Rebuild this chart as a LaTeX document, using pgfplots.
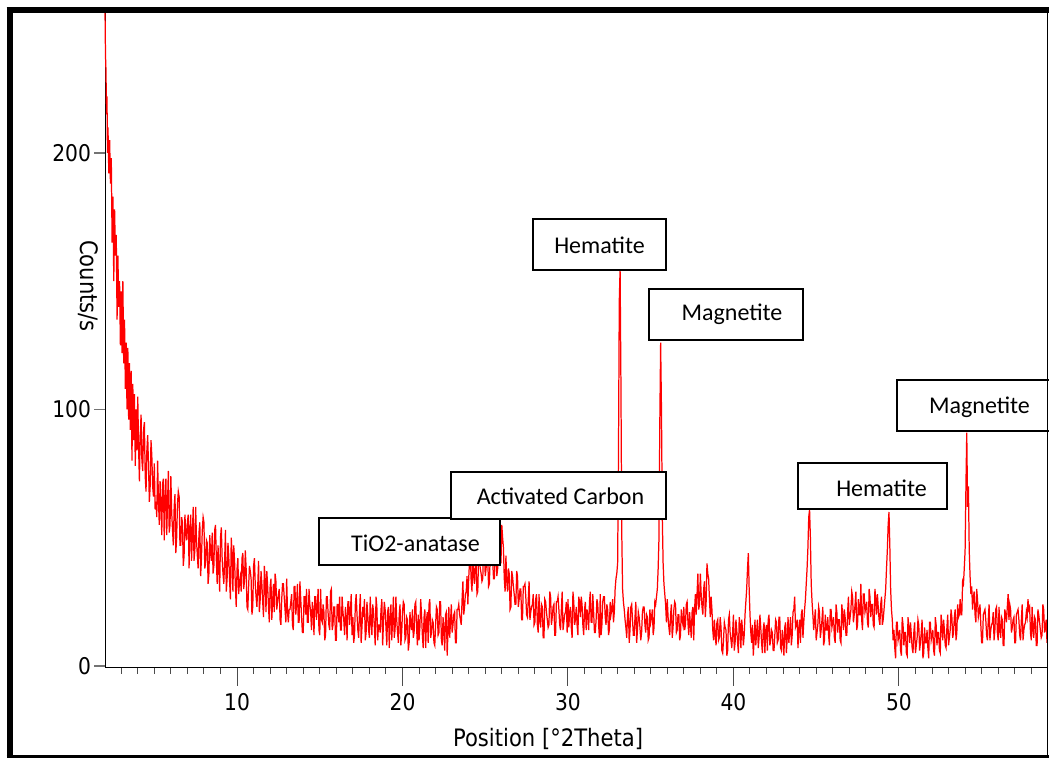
\documentclass[border=0pt]{standalone}
\usepackage{fontspec}
\setmainfont{DejaVu Sans}[FakeStretch=0.88]
\newfontfamily\boxfont{Carlito}
\usepackage{pgfplots}
\pgfplotsset{compat=1.18}
\begin{document}
\begin{tikzpicture}
\useasboundingbox (0,0) rectangle (524.5pt,379pt);
\begin{axis}[
  at={(52.5pt,45pt)}, anchor=south west,
  scale only axis, width=471pt, height=330pt,
  xmin=2.02, xmax=58.95, ymin=-0.8, ymax=256.5,
  clip=false,
  axis x line=bottom, axis y line=left,
  axis line style={-, black, line width=0.5pt},
  xtick={10,20,30,40,50}, minor xtick={3,4,...,58},
  ytick={0,100,200},
  tick align=outside,
  major tick length=9pt, minor tick length=3pt,
  ytick style={draw=none},
  xtick style={black!70, line width=0.5pt},
  minor x tick style={black!70, line width=0.5pt},
  /pgf/number format/assume math mode=true,
  ticklabel style={font=\fontsize{11.5}{13}\selectfont, text=black},
  yticklabel style={xshift=5.5pt},
  label style={font=\fontsize{12}{14}\selectfont},
  xlabel={Position [°2Theta]},
  ylabel={Counts/s},
  xlabel style={at={(axis description cs:0.4703,-0.1192)}, anchor=base},
  ylabel style={rotate=180, at={(axis description cs:-0.018,0.5788)}, anchor=center},
]
\addplot[red, line width=0.62pt] table {
x y
2.02 256
2.05 238
2.08 232
2.11 215
2.14 222
2.17 200
2.20 210
2.25 192
2.30 205
2.35 188
2.40 198
2.45 165
2.50 183
2.55 150
2.60 178
2.65 160
2.70 168
2.75 135
2.80 160
2.85 140
2.90 150
2.95 125
3.00 146
3.05 122
3.10 150
3.15 118
3.20 135
3.25 108
3.30 126
3.35 100
3.40 124
3.45 96
3.50 118
3.55 92
3.60 115
3.65 80
3.70 110
3.75 88
3.80 106
3.85 78
3.90 100
3.95 84
4.00 105
4.05 85
4.1 72
4.15 90
4.2 98
4.25 80
4.3 76
4.35 92
4.4 95
4.45 74
4.5 68
4.55 84
4.6 90
4.65 78
4.7 64
4.75 70
4.8 88
4.85 82
4.9 70
4.95 66
5.0 79
5.05 61
5.1 64
5.15 58
5.2 80
5.25 65
5.3 55
5.35 72
5.4 63
5.45 51
5.5 71
5.55 73
5.6 49
5.65 66
5.7 73
5.75 51
5.8 64
5.85 76
5.9 52
5.95 55
6.0 74
6.05 60
6.1 53
6.15 47
6.2 62
6.25 67
6.3 44
6.35 50
6.4 63
6.45 68
6.5 66
6.55 47
6.6 47
6.65 58
6.7 56
6.75 39
6.8 43
6.85 59
6.9 52
6.95 49
7.0 56
7.05 59
7.1 38
7.15 53
7.2 59
7.25 41
7.3 51
7.35 62
7.4 41
7.45 45
7.5 62
7.55 49
7.6 43
7.65 38
7.7 52
7.75 56
7.8 35
7.85 42
7.9 53
7.95 58
8.0 56
8.05 38
8.1 40
8.15 49
8.2 48
8.25 32
8.3 36
8.35 51
8.4 44
8.45 41
8.5 52
8.55 36
8.6 39
8.65 53
8.7 55
8.75 41
8.8 32
8.85 47
8.9 39
8.95 29
9.0 50
9.05 54
9.1 42
9.15 36
9.2 32
9.25 41
9.3 53
9.35 29
9.4 34
9.45 48
9.5 43
9.55 33
9.6 26
9.65 50
9.7 44
9.75 29
9.8 47
9.85 41
9.9 31
9.95 23
10.0 38
10.05 42
10.1 28
10.15 33
10.2 35
10.25 29
10.3 42
10.35 44
10.4 30
10.45 33
10.5 45
10.55 38
10.6 23
10.65 22
10.7 31
10.75 39
10.8 37
10.85 34
10.9 20
10.95 23
11.0 39
11.05 42
11.1 32
11.15 27
11.2 23
11.25 31
11.3 41
11.35 21
11.4 26
11.45 37
11.5 32
11.55 25
11.6 19
11.65 39
11.7 34
11.75 21
11.8 37
11.85 31
11.9 23
11.95 17
12.0 31
12.05 34
12.1 18
12.15 25
12.2 32
12.25 21
12.3 36
12.35 33
12.4 22
12.45 25
12.5 28
12.55 30
12.6 18
12.65 16
12.7 26
12.75 32
12.8 32
12.85 27
12.9 22
12.95 17
13.0 34
13.05 21
13.1 17
13.15 22
13.2 22
13.25 25
13.3 28
13.35 16
13.4 14
13.45 31
13.5 31
13.55 20
13.6 24
13.65 32
13.7 17
13.75 17
13.8 33
13.85 26
13.9 19
13.95 13
14.0 13
14.05 27
14.1 27
14.15 20
14.2 30
14.25 17
14.3 17
14.35 30
14.4 24
14.45 21
14.5 14
14.55 25
14.6 21
14.65 12
14.7 27
14.75 27
14.8 18
14.85 23
14.9 30
14.95 14
15.0 12
15.05 30
15.1 18
15.15 17
15.2 24
15.25 21
15.3 10
15.35 12
15.4 27
15.45 27
15.5 21
15.55 16
15.6 14
15.65 29
15.7 30
15.75 14
15.8 16
15.85 23
15.9 23
15.95 10
16.0 10
16.05 24
16.1 24
16.15 17
16.2 27
16.25 14
16.3 14
16.35 27
16.4 21
16.45 18
16.5 12
16.55 23
16.6 19
16.65 10
16.7 25
16.75 25
16.8 16
16.85 21
16.9 28
16.95 12
17.0 19
17.05 9
17.1 12
17.15 24
17.2 28
17.25 20
17.3 14
17.35 11
17.4 21
17.45 28
17.5 9
17.55 15
17.6 23
17.65 19
17.7 26
17.75 10
17.8 13
17.85 25
17.9 20
17.95 14
18.0 11
18.05 27
18.1 18
18.15 12
18.2 24
18.25 21
18.3 15
18.35 8
18.4 27
18.45 23
18.5 10
18.55 16
18.6 16
18.65 13
18.7 22
18.75 26
18.8 8
18.85 17
18.9 25
18.95 22
19.0 15
19.05 8
19.1 21
19.15 23
19.2 7
19.25 19
19.3 24
19.35 10
19.4 18
19.45 27
19.5 11
19.55 14
19.6 27
19.65 18
19.7 13
19.75 9
19.8 20
19.85 24
19.9 8
19.95 13
20.0 21
20.05 25
20.1 24
20.15 10
20.2 11
20.25 19
20.3 18
20.35 6
20.4 9
20.45 21
20.5 16
20.55 14
20.6 22
20.65 11
20.7 13
20.75 24
20.8 25
20.85 15
20.9 8
20.95 20
21.0 10
21.05 15
21.1 26
21.15 20
21.2 12
21.25 7
21.3 19
21.35 22
21.4 7
21.45 18
21.5 21
21.55 9
21.6 24
21.65 26
21.7 11
21.75 13
21.8 18
21.85 17
21.9 9
21.95 8
22.0 16
22.05 23
22.1 22
22.15 12
22.2 13
22.25 25
22.3 25
22.35 10
22.4 8
22.45 19
22.5 14
22.55 6
22.6 20
22.65 21
22.7 4
22.75 14
22.8 23
22.85 11
22.9 17
22.95 24
23.0 13
23.05 16
23.1 20
23.15 21
23.2 9
23.25 9
23.3 22
23.35 22
23.4 24
23.45 20
23.5 18
23.55 16
23.6 26
23.65 33
23.7 20
23.75 23
23.8 28
23.85 29
23.9 35
23.95 24
24.0 34
24.05 41
24.1 43
24.15 33
24.2 29
24.25 44
24.3 35
24.35 32
24.4 40
24.45 39
24.5 28
24.55 29
24.6 44
24.65 41
24.7 38
24.75 36
24.8 33
24.85 34
24.9 46
24.95 45
25.0 35
25.05 38
25.1 41
25.15 42
25.2 31
25.25 32
25.3 43
25.35 44
25.4 45
25.45 41
25.5 34
25.55 34
25.6 42
25.65 49
25.7 35
25.75 38
25.8 44
25.85 43
25.9 50
25.95 40
26.0 55
26.05 50
26.1 46
26.15 34
26.2 29
26.25 43
26.3 33
26.35 29
26.4 38
26.45 36
26.5 22
26.55 23
26.6 37
26.65 35
26.7 31
26.75 28
26.8 24
26.85 24
26.9 37
26.95 35
27.0 23
27.05 26
27.1 30
27.15 30
27.2 18
27.25 18
27.3 31
27.35 31
27.4 32
27.45 27
27.5 20
27.55 19
27.6 26
27.65 33
27.7 18
27.75 21
27.8 23
27.85 24
27.9 28
27.95 16
28.0 17
28.05 26
28.1 28
28.15 16
28.2 13
28.25 28
28.3 18
28.35 15
28.4 24
28.45 23
28.5 11
28.55 11
28.6 26
28.65 25
28.7 21
28.75 18
28.8 15
28.85 16
28.9 29
28.95 27
29.0 16
29.05 19
29.1 23
29.15 24
29.2 12
29.25 12
29.3 25
29.35 25
29.4 27
29.45 22
29.5 16
29.55 14
29.6 22
29.65 29
29.7 14
29.75 17
29.8 20
29.85 21
29.9 25
29.95 13
30.0 26
30.05 15
30.1 21
30.15 23
30.2 15
30.25 11
30.3 29
30.35 25
30.4 16
30.45 18
30.5 23
30.55 16
30.6 12
30.65 27
30.7 25
30.75 19
30.8 27
30.85 24
30.9 16
30.95 12
31.0 22
31.05 25
31.1 14
31.15 22
31.2 20
31.25 14
31.3 25
31.35 29
31.4 17
31.45 17
31.5 28
31.55 21
31.6 13
31.65 13
31.7 18
31.75 26
31.8 24
31.85 16
31.9 11
31.95 28
32.0 12
32.05 16
32.1 25
32.15 27
32.2 27
32.25 19
32.3 16
32.35 24
32.4 22
32.45 12
32.5 14
32.55 25
32.6 20
32.65 22
32.7 26
32.75 17
32.8 21
32.85 30
32.9 34
32.95 36
33.0 40
33.05 80
33.1 142
33.15 155
33.2 110
33.25 52
33.3 30
33.35 25
33.4 22
33.45 18
33.5 15
33.55 11
33.6 20
33.65 23
33.7 9
33.75 14
33.8 23
33.85 24
33.9 18
33.95 12
34.0 12
34.05 19
34.1 25
34.15 9
34.2 14
34.25 21
34.3 19
34.35 15
34.4 10
34.45 13
34.5 21
34.55 23
34.6 23
34.65 16
34.7 13
34.75 20
34.8 19
34.85 10
34.9 11
34.95 22
35.0 17
35.05 19
35.1 22
35.15 12
35.2 15
35.25 25
35.3 24
35.35 27
35.4 30
35.45 38
35.5 50
35.55 95
35.6 126
35.65 100
35.7 58
35.75 40
35.8 32
35.85 28
35.9 24
35.95 17
36.0 26
36.05 19
36.1 15
36.15 12
36.2 20
36.25 24
36.3 11
36.35 15
36.4 22
36.45 25
36.5 24
36.55 13
36.6 14
36.65 20
36.7 20
36.75 10
36.8 12
36.85 22
36.9 18
36.95 16
37.0 23
37.05 14
37.1 16
37.15 24
37.2 25
37.25 17
37.3 12
37.35 21
37.4 16
37.45 11
37.5 21
37.55 23
37.6 10
37.65 22
37.7 28
37.75 20
37.8 28
37.85 36
37.9 22
37.95 24
38.0 36
38.05 28
38.1 23
38.15 20
38.2 30
38.25 33
38.3 19
38.35 25
38.4 40
38.45 36
38.5 34
38.55 26
38.6 19
38.65 27
38.7 22
38.75 14
38.8 10
38.85 18
38.9 12
38.95 8
39.0 17
39.05 18
39.1 10
39.15 11
39.2 19
39.25 15
39.3 6
39.35 5
39.4 10
39.45 17
39.5 15
39.55 14
39.6 4
39.65 6
39.7 18
39.75 20
39.8 13
39.85 10
39.9 7
39.95 13
40.0 20
40.05 6
40.1 9
40.15 18
40.2 14
40.25 9
40.3 5
40.35 19
40.4 16
40.45 7
40.5 18
40.55 14
40.6 8
40.65 12
40.7 20
40.75 25
40.8 30
40.85 38
40.9 44
40.95 30
41.0 20
41.05 13
41.1 9
41.15 16
41.2 4
41.25 10
41.3 18
41.35 8
41.4 13
41.45 18
41.5 7
41.55 11
41.6 20
41.65 15
41.7 9
41.75 5
41.8 14
41.85 17
41.9 5
41.95 14
42.0 16
42.05 6
42.1 18
42.15 20
42.2 8
42.25 10
42.3 14
42.35 13
42.4 6
42.45 6
42.5 12
42.55 18
42.6 17
42.65 9
42.7 10
42.75 19
42.8 19
42.85 7
42.9 6
42.95 14
43.0 10
43.05 4
43.1 15
43.15 17
43.2 5
43.25 11
43.3 19
43.35 9
43.4 14
43.45 19
43.5 8
43.55 12
43.6 21
43.65 22
43.7 27
43.75 15
43.8 16
43.85 18
43.9 7
43.95 15
44.0 18
44.05 9
44.1 20
44.15 22
44.2 11
44.25 17
44.3 22
44.35 26
44.4 32
44.45 38
44.5 46
44.55 58
44.6 61
44.65 50
44.7 32
44.75 25
44.8 20
44.85 14
44.9 18
44.95 22
45.0 10
45.05 13
45.1 16
45.15 23
45.2 21
45.25 11
45.3 14
45.35 18
45.4 23
45.45 8
45.5 10
45.55 20
45.6 14
45.65 14
45.7 19
45.75 12
45.8 8
45.85 22
45.9 22
45.95 15
46.0 17
46.05 19
46.1 11
46.15 9
46.2 24
46.25 21
46.3 13
46.35 18
46.4 18
46.45 10
46.5 9
46.55 24
46.6 20
46.65 14
46.7 22
46.75 19
46.8 12
46.85 12
46.9 21
46.95 27
47.0 16
47.05 19
47.1 22
47.15 29
47.2 27
47.25 17
47.3 20
47.35 24
47.4 29
47.45 14
47.5 16
47.55 26
47.6 20
47.65 20
47.7 32
47.75 18
47.8 14
47.85 28
47.9 28
47.95 21
48.0 23
48.05 25
48.1 17
48.15 15
48.2 30
48.25 27
48.3 19
48.35 24
48.4 24
48.45 16
48.5 15
48.55 30
48.6 26
48.65 20
48.7 28
48.75 23
48.8 18
48.85 16
48.9 24
48.95 27
49.0 16
49.05 18
49.1 22
49.15 26
49.2 30
49.25 38
49.3 45
49.35 55
49.4 60
49.45 47
49.5 30
49.55 22
49.6 18
49.65 10
49.7 14
49.75 7
49.8 3
49.85 17
49.9 17
49.95 10
50.0 12
50.05 14
50.1 6
50.15 4
50.2 19
50.25 16
50.3 8
50.35 13
50.4 13
50.45 5
50.5 4
50.55 19
50.6 15
50.65 9
50.7 17
50.75 12
50.8 7
50.85 5
50.9 13
50.95 17
51.0 5
51.05 8
51.1 11
51.15 18
51.2 16
51.25 6
51.3 9
51.35 13
51.4 18
51.45 3
51.5 5
51.55 15
51.6 9
51.65 9
51.7 14
51.75 7
51.8 3
51.85 17
51.9 17
51.95 10
52.0 12
52.05 14
52.1 6
52.15 4
52.2 19
52.25 16
52.3 8
52.35 13
52.4 13
52.45 6
52.5 5
52.55 20
52.6 16
52.65 10
52.7 18
52.75 14
52.8 8
52.85 7
52.9 15
52.95 20
53.0 8
53.05 11
53.1 14
53.15 22
53.2 19
53.25 11
53.3 13
53.35 19
53.4 22
53.45 10
53.5 13
53.55 24
53.6 19
53.65 20
53.7 26
53.75 20
53.8 20
53.85 33
53.9 32
53.95 38
54.0 45
54.05 70
54.1 91
54.15 62
54.2 70
54.25 45
54.3 35
54.35 28
54.4 31
54.45 22
54.5 27
54.55 29
54.6 20
54.65 17
54.7 30
54.75 26
54.8 19
54.85 21
54.9 24
54.95 16
55.0 9
55.05 9
55.1 20
55.15 21
55.2 22
55.25 18
55.3 12
55.35 10
55.4 18
55.45 24
55.5 10
55.55 14
55.6 16
55.65 17
55.7 21
55.75 10
55.8 14
55.85 22
55.9 23
55.95 13
56.0 10
56.05 23
56.1 14
56.15 11
56.2 19
56.25 18
56.3 8
56.35 8
56.4 22
56.45 20
56.5 17
56.55 23
56.6 28
56.65 18
56.7 24
56.75 22
56.8 13
56.85 15
56.9 18
56.95 19
57.0 9
57.05 9
57.1 20
57.15 21
57.2 22
57.25 18
57.3 12
57.35 10
57.4 18
57.45 24
57.5 10
57.55 14
57.6 16
57.65 17
57.7 21
57.75 19
57.8 26
57.85 22
57.9 23
57.95 13
58.0 10
58.05 23
58.1 14
58.15 11
58.2 19
58.25 18
58.3 8
58.35 8
58.4 22
58.45 20
58.5 17
58.55 14
58.6 11
58.65 12
58.7 24
58.75 22
58.8 13
58.85 15
58.9 18
58.95 9
};
\pgfplotsinvokeforeach{0,100,200}{\draw[black!55, line width=0.6pt] (axis cs:2.02,#1) -- ([xshift=-5.5pt]axis cs:2.02,#1);}
\end{axis}
% label boxes
\begin{scope}[line width=1pt]
\draw[fill=white] (159.5pt,96.5pt) rectangle (250pt,120pt);
\draw[fill=white] (225.5pt,119.5pt) rectangle (333pt,143pt);
\draw[fill=white] (266.5pt,244pt) rectangle (333pt,269.5pt);
\draw[fill=white] (324.5pt,209pt) rectangle (401.5pt,234.5pt);
\draw[fill=white] (399pt,124.5pt) rectangle (473.5pt,147.5pt);
\draw[fill=white] (448.5pt,163.5pt) rectangle (526pt,189pt);
\end{scope}
\begin{scope}[every node/.style={inner sep=0pt, anchor=base, font=\boxfont\fontsize{12}{14}\selectfont}]
\node at (207.75pt,103pt) {TiO2-anatase};
\node at (280.25pt,126.75pt) {Activated Carbon};
\node at (299.75pt,252.25pt) {Hematite};
\node at (366pt,218.5pt) {Magnetite};
\node at (440.75pt,130.75pt) {Hematite};
\node at (489.75pt,172pt) {Magnetite};
\end{scope}
% outer frame
\draw[line width=3pt] (4.85pt,0pt) -- (4.85pt,375.65pt);
\draw[line width=3pt] (3.35pt,374.15pt) -- (524.5pt,374.15pt);
\draw[line width=0.6pt] (523.75pt,0pt) -- (523.75pt,375pt);
\draw[line width=1.5pt] (3.35pt,0.75pt) -- (524.5pt,0.75pt);
\end{tikzpicture}
\end{document}
